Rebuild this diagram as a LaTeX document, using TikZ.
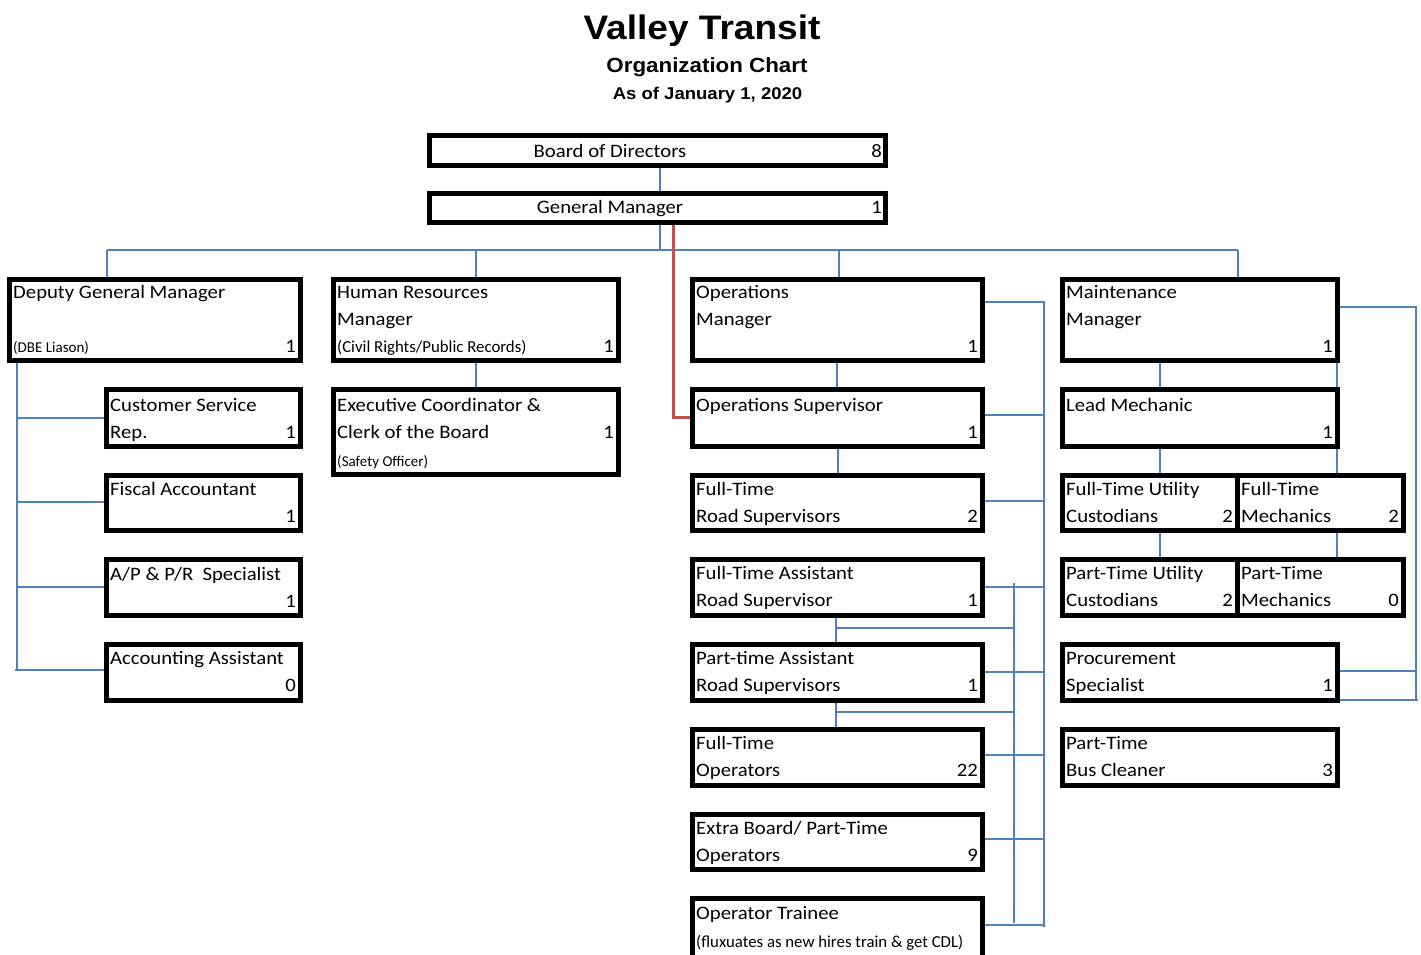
\documentclass[tikz,border=0pt]{standalone}
\usepackage{fontspec}
\setmainfont{Carlito}[FakeStretch=1.09]
\newfontfamily\smallfont{Carlito}
\newfontfamily\titlefont{Liberation Sans}[FakeStretch=1.09]
\usetikzlibrary{calc}
\definecolor{conblue}{HTML}{4F81BD}
\definecolor{conred}{HTML}{C0504D}
\pgfdeclarelayer{bg}
\pgfsetlayers{bg,main}
\tikzset{
  obox/.style={draw=black, line width=5pt, fill=white, rectangle, inner sep=0pt},
  txt/.style={inner sep=0pt, font=\fontsize{19}{19}\selectfont},
  smalltxt/.style={inner sep=0pt, font={\smallfont\fontsize{15}{15}\selectfont}},
  midtxt/.style={inner sep=0pt, font={\smallfont\fontsize{16.8}{17}\selectfont}},
  conn/.style={draw=conblue, line width=1.6pt},
  redconn/.style={draw=conred, line width=3pt},
}
% name, x1, y1, x2, y2
\newcommand\OBox[5]{\node[obox, minimum width={#4-#2-5}, minimum height={#5-#3-5}] (#1) at ({(#2+#4)/2},{(#3+#5)/2}) {};}
% name, style, x, y, text
\newcommand\TL[5]{\node[#2, anchor=base west] (#1) at (#3,#4) {#5};}
\newcommand\TN[4]{\node[txt, anchor=base east] (#1) at (#2,#3) {#4};}
\begin{document}
\begin{tikzpicture}[x=1pt,y=-1pt]
\useasboundingbox (0,0) rectangle (1421,954);

% titles
\node[inner sep=0pt, anchor=base, font={\titlefont\fontsize{34}{36}\selectfont\bfseries}] (title) at (702,39.5) {Valley Transit};
\node[inner sep=0pt, anchor=base, font={\titlefont\fontsize{20.5}{22}\selectfont\bfseries}] (subtitle) at (707,72.5) {Organization Chart};
\node[inner sep=0pt, anchor=base, font={\titlefont\fontsize{17}{18}\selectfont\bfseries}] (date) at (707.5,99.5) {As of January 1, 2020};

% boxes
\OBox{board}{427}{133}{888}{168}
\OBox{gm}{427}{191}{888}{225}
\OBox{dgm}{7}{277}{303}{363}
\OBox{hr}{331}{277}{621}{363}
\OBox{ops}{690}{277}{985}{363}
\OBox{mnt}{1060}{277}{1340}{363}
\OBox{csr}{104}{387}{303}{449}
\OBox{exec}{331}{387}{621}{477}
\OBox{opsup}{690}{387}{985}{449}
\OBox{lead}{1060}{387}{1340}{449}
\OBox{fiscal}{104}{473}{303}{533}
\OBox{ftrs}{690}{473}{985}{533}
\OBox{ftuc}{1060}{473}{1240}{533}
\OBox{ftm}{1235}{473}{1406}{533}
\OBox{ap}{104}{557}{303}{618}
\OBox{ftars}{690}{557}{985}{618}
\OBox{ptuc}{1060}{557}{1240}{618}
\OBox{ptm}{1235}{557}{1406}{618}
\OBox{acct}{104}{642}{303}{703}
\OBox{ptars}{690}{642}{985}{703}
\OBox{proc}{1060}{642}{1340}{703}
\OBox{ftops}{690}{727}{985}{788}
\OBox{ptbc}{1060}{727}{1340}{788}
\OBox{extra}{690}{812}{985}{872}
\OBox{trainee}{690}{896}{985}{966}

% texts
\node[txt, anchor=base] (board-t) at (610,157) {Board of Directors};
\TN{board-n}{882}{157}{8}
\node[txt, anchor=base] (gm-t) at (610,213) {General Manager};
\TN{gm-n}{882}{213}{1}

\TL{dgm-t1}{txt}{13}{298}{Deputy General Manager}
\TL{dgm-t2}{smalltxt}{13}{352}{(DBE Liason)}
\TN{dgm-n}{296}{352}{1}

\TL{hr-t1}{txt}{337}{298}{Human Resources}
\TL{hr-t2}{txt}{337}{325}{Manager}
\TL{hr-t3}{midtxt}{337}{352}{(Civil Rights/Public Records)}
\TN{hr-n}{614}{352}{1}

\TL{ops-t1}{txt}{696}{298}{Operations}
\TL{ops-t2}{txt}{696}{325}{Manager}
\TN{ops-n}{978}{352}{1}

\TL{mnt-t1}{txt}{1066}{298}{Maintenance}
\TL{mnt-t2}{txt}{1066}{325}{Manager}
\TN{mnt-n}{1333}{352}{1}

\TL{csr-t1}{txt}{110}{411}{Customer Service}
\TL{csr-t2}{txt}{110}{438}{Rep.}
\TN{csr-n}{296}{438}{1}

\TL{exec-t1}{txt}{337}{411}{Executive Coordinator \&}
\TL{exec-t2}{txt}{337}{438}{Clerk of the Board}
\TL{exec-t3}{smalltxt}{337}{466}{(Safety Officer)}
\TN{exec-n}{614}{438}{1}

\TL{opsup-t1}{txt}{696}{411}{Operations Supervisor}
\TN{opsup-n}{978}{438}{1}

\TL{lead-t1}{txt}{1066}{411}{Lead Mechanic}
\TN{lead-n}{1333}{438}{1}

\TL{fiscal-t1}{txt}{110}{495}{Fiscal Accountant}
\TN{fiscal-n}{296}{522}{1}

\TL{ftrs-t1}{txt}{696}{495}{Full-Time}
\TL{ftrs-t2}{txt}{696}{522}{Road Supervisors}
\TN{ftrs-n}{978}{522}{2}

\TL{ftuc-t1}{txt}{1066}{495}{Full-Time Utility}
\TL{ftuc-t2}{txt}{1066}{522}{Custodians}
\TN{ftuc-n}{1233}{522}{2}

\TL{ftm-t1}{txt}{1241}{495}{Full-Time}
\TL{ftm-t2}{txt}{1241}{522}{Mechanics}
\TN{ftm-n}{1399}{522}{2}

\TL{ap-t1}{txt}{110}{580}{A/P \& P/R\ \ Specialist}
\TN{ap-n}{296}{607}{1}

\TL{ftars-t1}{txt}{696}{579}{Full-Time Assistant}
\TL{ftars-t2}{txt}{696}{606}{Road Supervisor}
\TN{ftars-n}{978}{606}{1}

\TL{ptuc-t1}{txt}{1066}{579}{Part-Time Utility}
\TL{ptuc-t2}{txt}{1066}{606}{Custodians}
\TN{ptuc-n}{1233}{606}{2}

\TL{ptm-t1}{txt}{1241}{579}{Part-Time}
\TL{ptm-t2}{txt}{1241}{606}{Mechanics}
\TN{ptm-n}{1399}{606}{0}

\TL{acct-t1}{txt}{110}{664}{Accounting Assistant}
\TN{acct-n}{296}{691}{0}

\TL{ptars-t1}{txt}{696}{664}{Part-time Assistant}
\TL{ptars-t2}{txt}{696}{691}{Road Supervisors}
\TN{ptars-n}{978}{691}{1}

\TL{proc-t1}{txt}{1066}{664}{Procurement}
\TL{proc-t2}{txt}{1066}{691}{Specialist}
\TN{proc-n}{1333}{691}{1}

\TL{ftops-t1}{txt}{696}{749}{Full-Time}
\TL{ftops-t2}{txt}{696}{776}{Operators}
\TN{ftops-n}{978}{776}{22}

\TL{ptbc-t1}{txt}{1066}{749}{Part-Time}
\TL{ptbc-t2}{txt}{1066}{776}{Bus Cleaner}
\TN{ptbc-n}{1333}{776}{3}

\TL{extra-t1}{txt}{696}{834}{Extra Board/ Part-Time}
\TL{extra-t2}{txt}{696}{861}{Operators}
\TN{extra-n}{978}{861}{9}

\TL{trainee-t1}{txt}{696}{919}{Operator Trainee}
\TL{trainee-t2}{midtxt}{696}{947}{(fluxuates as new hires train \& get CDL)}

% connectors
\begin{pgfonlayer}{bg}
\coordinate (busL) at (107,250);
\coordinate (busR) at (1238,250);
\coordinate (busM) at (660,250);
\draw[conn] (660,0 |- board.south) -- (660,0 |- gm.north);
\draw[conn] (660,0 |- gm.south) -- (busM);
\draw[conn] (busL) -- (busR);
\draw[conn] (busL) -- (busL |- dgm.north);
\draw[conn] (476,250) -- (476,0 |- hr.north);
\draw[conn] (839,250) -- (839,0 |- ops.north);
\draw[conn] (busR) -- (busR |- mnt.north);
% deputy branch
\draw[conn] (17,0 |- dgm.south) -- (17,670);
\draw[conn] (17,418) -- (csr.west |- 0,418);
\draw[conn] (17,502) -- (fiscal.west |- 0,502);
\draw[conn] (17,587) -- (ap.west |- 0,587);
\draw[conn] (15,670) -- (acct.west |- 0,670);
% HR
\draw[conn] (476,0 |- hr.south) -- (476,0 |- exec.north);
% operations
\draw[conn] (837,0 |- ops.south) -- (837,0 |- opsup.north);
\draw[conn] (838,0 |- opsup.south) -- (838,0 |- ftrs.north);
\draw[conn] (ops.east |- 0,302) -- (1044,302) -- (1044,927);
\foreach \n/\yy in {opsup/415, ftrs/501, ftars/587, ptars/672, ftops/755, extra/839, trainee/925}
  \draw[conn] (\n.east |- 0,\yy) -- (1044,\yy);
\draw[conn] (1014,583) -- (1014,923);
\draw[conn] (836,0 |- ftars.south) -- (836,0 |- ptars.north);
\draw[conn] (836,628) -- (1014,628);
\draw[conn] (836,0 |- ptars.south) -- (836,0 |- ftops.north);
\draw[conn] (836,712) -- (1014,712);
% maintenance
\draw[conn] (1160,0 |- mnt.south) -- (1160,0 |- lead.north);
\draw[conn] (1337,0 |- mnt.south) -- (1337,0 |- lead.north);
\draw[conn] (1160,0 |- lead.south) -- (1160,0 |- ftuc.north);
\draw[conn] (1337,0 |- lead.south) -- (1337,0 |- ftm.north);
\draw[conn] (1160,0 |- ftuc.south) -- (1160,0 |- ptuc.north);
\draw[conn] (1337,0 |- ftm.south) -- (1337,0 |- ptm.north);
\draw[conn] (mnt.east |- 0,307) -- (1416,307) -- (1416,700);
\draw[conn] (1416,671) -- (proc.east |- 0,671);
\draw[conn] (1418,700) -- (proc.east |- 0,700);
% red link
\draw[redconn] (673,0 |- gm.south) -- (673,417) -- (opsup.west |- 0,417);
\end{pgfonlayer}
\end{tikzpicture}
\end{document}
